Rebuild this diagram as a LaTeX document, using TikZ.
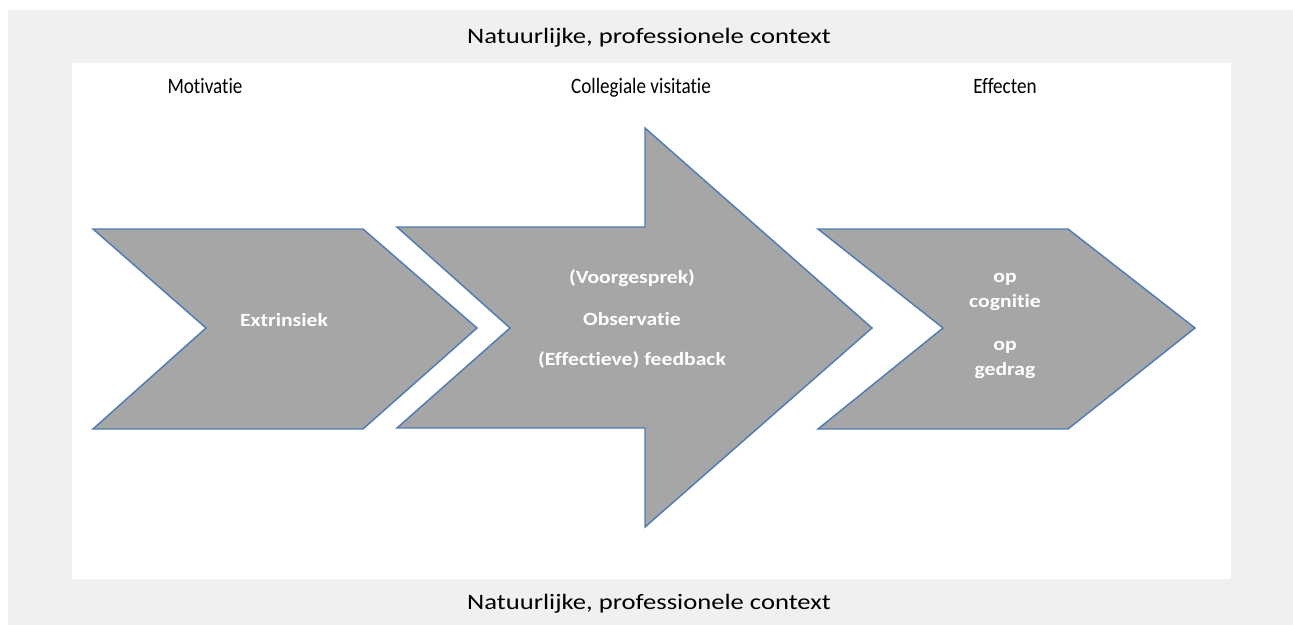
\documentclass[tikz,border=0pt]{standalone}
\usepackage{fontspec}
\setmainfont[Ligatures=NoCommon]{Carlito}
\definecolor{bgc}{HTML}{F0F0F0}
\definecolor{shapefill}{HTML}{A6A6A6}
\definecolor{shapeline}{HTML}{4F7DB3}
\newcommand{\wideA}[1]{\scalebox{1.21}[1]{#1}}
\newcommand{\wideB}[1]{\scalebox{1.16}[1]{#1}}
\newcommand{\narrowC}[1]{\scalebox{0.87}[1]{#1}}
\tikzset{
  shapebox/.style={fill=shapefill, draw=shapeline, line width=1.1pt, line join=miter},
  titletext/.style={font=\fontsize{16.5}{20}\selectfont, text=black, anchor=base, inner sep=0pt},
  headtext/.style={font=\fontsize{16.5}{20}\selectfont, text=black, anchor=base, inner sep=0pt},
  intext/.style={font=\fontsize{14}{17}\selectfont\bfseries, text=white, anchor=base, inner sep=0pt}
}
\begin{document}
\begin{tikzpicture}[x=0.75pt,y=-0.75pt]
\useasboundingbox (0,0) rectangle (1293,625);
\fill[bgc] (8,10) rectangle (1293,625);
\fill[white] (72,63) rectangle (1231,579);
% shapes
\draw[shapebox] (93,229) -- (363,229) -- (477,328) -- (363,429) -- (93,429) -- (206,328) -- cycle;
\draw[shapebox] (397,227) -- (645,227) -- (645,128) -- (872,328) -- (645,527) -- (645,428) -- (397,428) -- (510,328) -- cycle;
\draw[shapebox] (818,229) -- (1068,229) -- (1195,328) -- (1068,429) -- (818,429) -- (943,328) -- cycle;
% header / footer
\node[titletext] (top) at (649,43) {\wideA{Natuurlijke, professionele context}};
\node[titletext] (bot) at (649,609) {\wideA{Natuurlijke, professionele context}};
\node[headtext] (mot) at (205,93) {\narrowC{Motivatie}};
\node[headtext] (col) at (641,93) {\narrowC{Collegiale visitatie}};
\node[headtext] (eff) at (1005,93) {\narrowC{Effecten}};
% inner texts
\node[intext] (ext) at (284,326) {\wideB{Extrinsiek}};
\node[intext] (voor) at (632,283) {\wideB{(Voorgesprek)}};
\node[intext] (obs) at (632,325) {\wideB{Observatie}};
\node[intext] (fb) at (632,365) {\wideB{(Effectieve) feedback}};
\node[intext] (op1) at (1005,282) {\wideB{op}};
\node[intext] (cog) at (1005,307) {\wideB{cognitie}};
\node[intext] (op2) at (1005,350) {\wideB{op}};
\node[intext] (ged) at (1005,375) {\wideB{gedrag}};
\end{tikzpicture}
\end{document}
